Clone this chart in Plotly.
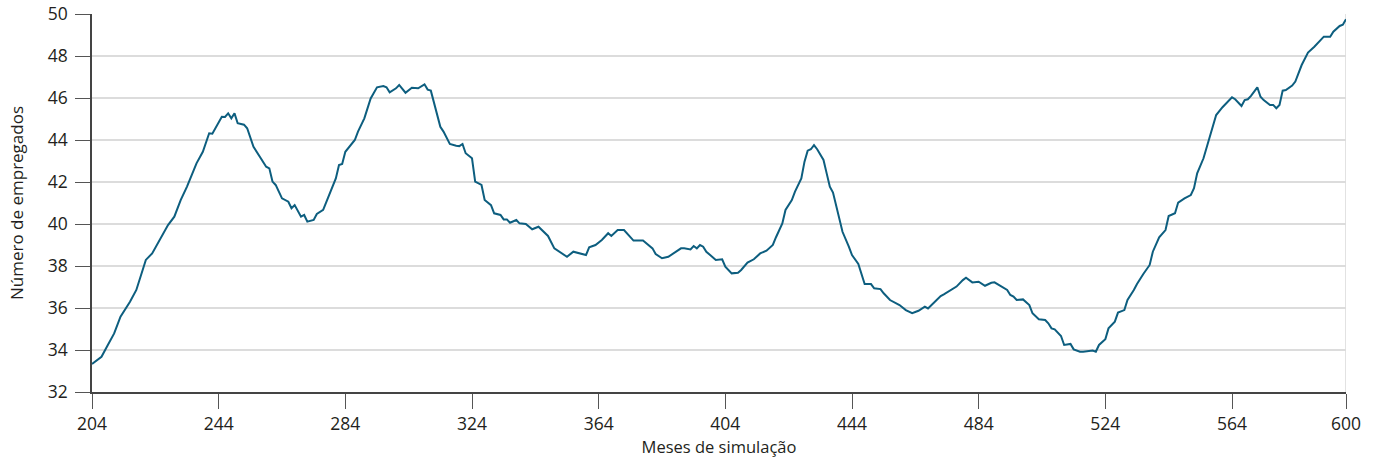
import plotly.graph_objects as go

# Data (month, number of employees)
months = [204, 207, 209, 211, 213, 216, 218, 221, 223, 226, 228, 230, 232, 234, 237, 239, 241, 242, 244, 245,
          246, 247, 248, 249, 250, 252, 253, 255, 257, 259, 260, 261, 262, 264, 266, 267, 268, 270, 271, 272,
          274, 275, 277, 279, 281, 282, 283, 284, 287, 288, 290, 292, 294, 296, 297, 298, 300, 301, 303, 305,
          307, 309, 310, 311, 313, 314, 315, 317, 319, 320, 321, 322, 324, 325, 327, 328, 330, 331, 333, 334,
          335, 336, 338, 339, 341, 343, 345, 347, 348, 350, 352, 354, 356, 358, 360, 361, 363, 365, 367, 368,
          370, 372, 374, 375, 378, 380, 381, 382, 384, 386, 388, 390, 391, 393, 394, 395, 396, 397, 398, 400,
          401, 403, 404, 406, 408, 409, 411, 413, 415, 417, 419, 420, 422, 423, 425, 426, 428, 429, 430, 431,
          432, 433, 435, 436, 437, 438, 439, 441, 443, 444, 446, 447, 448, 450, 451, 453, 454, 456, 457, 459,
          461, 463, 465, 467, 468, 470, 472, 473, 475, 477, 479, 480, 482, 484, 486, 488, 489, 491, 493, 494,
          495, 496, 498, 500, 501, 503, 505, 506, 507, 508, 510, 511, 513, 514, 516, 517, 519, 520, 521, 522,
          524, 525, 527, 528, 530, 531, 533, 534, 536, 538, 539, 541, 543, 544, 546, 547, 549, 551, 552, 553,
          555, 557, 558, 559, 561, 562, 564, 565, 567, 568, 569, 570, 572, 573, 574, 576, 577, 578, 579, 580,
          581, 583, 584, 586, 587, 588, 590, 591, 593, 595, 596, 598, 599, 600]
employees = [33.33, 33.68, 34.24, 34.79, 35.59, 36.30, 36.86, 38.29, 38.60, 39.40, 39.95, 40.35, 41.14, 41.78, 42.89, 43.44, 44.32, 44.30, 44.80, 45.11,
             45.10, 45.27, 45.03, 45.27, 44.80, 44.73, 44.56, 43.68, 43.20, 42.73, 42.65, 42.02, 41.86, 41.22, 41.06, 40.75, 40.90, 40.35, 40.43, 40.11,
             40.19, 40.48, 40.67, 41.38, 42.17, 42.81, 42.86, 43.44, 44.00, 44.40, 45.03, 45.98, 46.51, 46.57, 46.51, 46.27, 46.46, 46.62, 46.25, 46.49,
             46.46, 46.65, 46.40, 46.35, 45.27, 44.63, 44.40, 43.81, 43.73, 43.71, 43.81, 43.37, 43.13, 42.02, 41.86, 41.14, 40.90, 40.51, 40.43, 40.22,
             40.22, 40.06, 40.19, 40.03, 40.00, 39.75, 39.87, 39.56, 39.43, 38.84, 38.65, 38.44, 38.68, 38.60, 38.52, 38.89, 39.00, 39.24, 39.56, 39.43,
             39.71, 39.71, 39.40, 39.21, 39.21, 38.95, 38.84, 38.57, 38.37, 38.44, 38.63, 38.84, 38.84, 38.79, 38.95, 38.84, 39.00, 38.92, 38.68, 38.41,
             38.29, 38.32, 37.97, 37.65, 37.68, 37.81, 38.16, 38.32, 38.60, 38.73, 39.00, 39.37, 40.03, 40.67, 41.14, 41.54, 42.17, 42.97, 43.49, 43.56,
             43.76, 43.56, 43.05, 42.41, 41.78, 41.50, 40.83, 39.63, 38.92, 38.52, 38.10, 37.57, 37.14, 37.14, 36.94, 36.90, 36.70, 36.38, 36.30, 36.14,
             35.90, 35.75, 35.87, 36.06, 35.98, 36.30, 36.57, 36.65, 36.83, 37.02, 37.33, 37.44, 37.22, 37.25, 37.06, 37.20, 37.22, 37.05, 36.86, 36.62,
             36.54, 36.38, 36.41, 36.14, 35.75, 35.46, 35.43, 35.27, 35.03, 34.98, 34.67, 34.24, 34.29, 34.03, 33.92, 33.92, 33.97, 33.97, 33.92, 34.24,
             34.51, 35.03, 35.35, 35.78, 35.90, 36.38, 36.86, 37.14, 37.62, 38.05, 38.68, 39.37, 39.71, 40.38, 40.51, 41.02, 41.22, 41.38, 41.70, 42.41,
             43.13, 44.16, 44.56, 45.19, 45.56, 45.71, 46.03, 45.94, 45.62, 45.90, 45.94, 46.10, 46.51, 46.06, 45.90, 45.67, 45.67, 45.51, 45.67, 46.35,
             46.38, 46.59, 46.78, 47.57, 47.84, 48.16, 48.44, 48.60, 48.92, 48.92, 49.16, 49.43, 49.49, 49.75]

x_ticks = [204, 244, 284, 324, 364, 404, 444, 484, 524, 564, 600]
x_tick_labels = [str(v) for v in x_ticks]
y_ticks = [32, 34, 36, 38, 40, 42, 44, 46, 48, 50]
y_tick_labels = [str(v) for v in y_ticks]

x_title = "Meses de simulação"
y_title = "Número de empregados"

fig = go.Figure()
fig.add_trace(go.Scatter(
    x=months, y=employees, mode="lines",
    line=dict(color="#0d5e7f", width=2),
    hoverinfo="x+y", showlegend=False,
))

fig.add_shape(type="line", xref="x", yref="paper", x0=x_ticks[-1], x1=x_ticks[-1], y0=0, y1=1,
              line=dict(color="#d9d9d9", width=1.5), layer="below")

fig.update_layout(
    width=1376, height=463,
    margin=dict(l=92, r=30, t=14, b=71),
    paper_bgcolor="white", plot_bgcolor="white",
    font=dict(family="Open Sans, Noto Sans, sans-serif", size=17, color="#231f20"),
    xaxis=dict(
        range=[x_ticks[0], x_ticks[-1]],
        tickmode="array", tickvals=x_ticks, ticktext=x_tick_labels,
        ticks="outside", ticklen=15, tickwidth=1.2, tickcolor="#555555",
        showline=True, linecolor="#444444", linewidth=1.5,
        showgrid=False, zeroline=False, automargin=False,
        title=dict(text=x_title, font=dict(size=16.5), standoff=8),
        tickfont=dict(size=17.5),
    ),
    yaxis=dict(
        range=[y_ticks[0], y_ticks[-1]],
        tickmode="array", tickvals=y_ticks, ticktext=y_tick_labels,
        ticks="outside", ticklen=15, tickwidth=1.2, tickcolor="#555555",
        showline=True, linecolor="#444444", linewidth=1.5,
        showgrid=True, gridcolor="#dcdcdc", gridwidth=1.5,
        zeroline=False, automargin=False, ticklabelstandoff=4,
        title=dict(text=y_title, font=dict(size=17), standoff=20),
        tickfont=dict(size=17.5),
    ),
)

fig.write_html("out.html", config={"displayModeBar": False},
               post_script="document.body.style.margin='0px';")
